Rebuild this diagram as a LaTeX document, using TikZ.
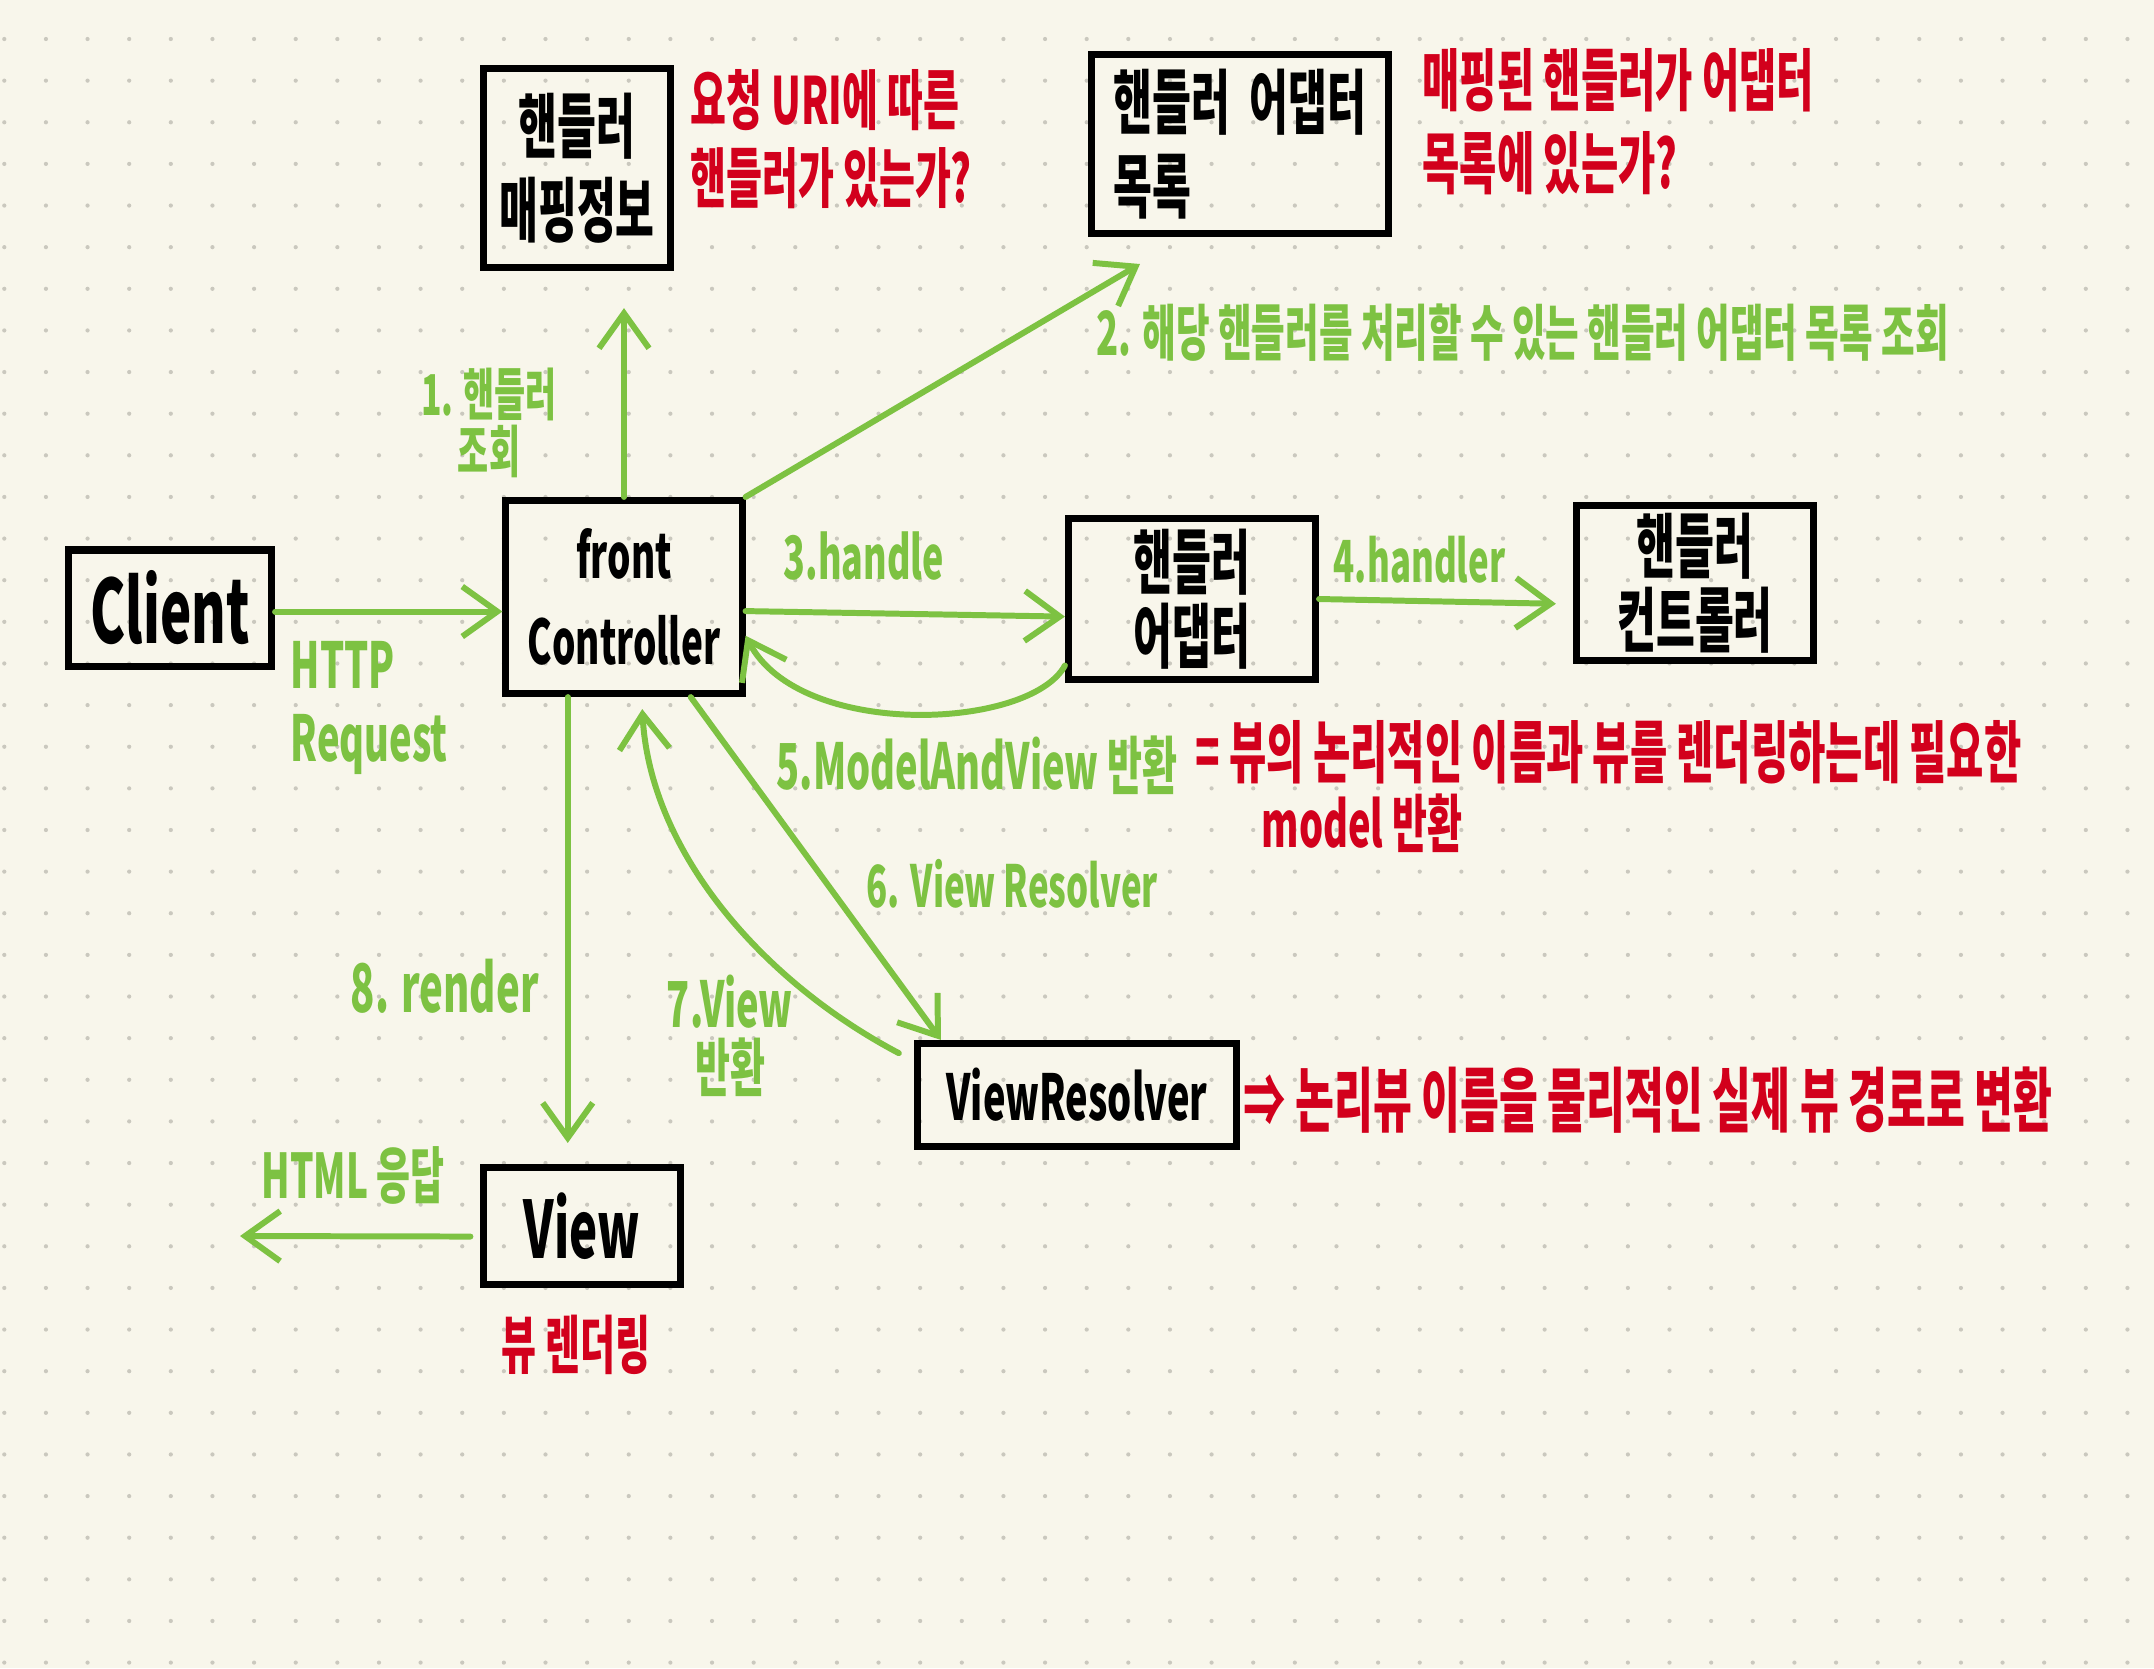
\documentclass[tikz,border=0pt]{standalone}
\usepackage{fontspec}
\usepackage{tikz}
\usetikzlibrary{arrows.meta}
\newfontfamily\hand[FakeStretch=0.6]{Noto Sans CJK KR}
\definecolor{paper}{HTML}{F8F6EB}
\definecolor{dotgray}{HTML}{CAC8BE}
\definecolor{pen}{HTML}{7DC242}
\definecolor{redpen}{HTML}{D2001C}
\tikzset{
  box/.style={draw=black, line width=2pt, inner sep=0pt, align=center,
    font=\hand\bfseries\fontsize{20}{24}\selectfont},
  flow/.style={draw=pen, line width=1.7pt, line cap=round, line join=round,
    -{Straight Barb[length=0.35cm,width=0.5cm]}},
  greennote/.style={text=pen, inner sep=0pt, font=\hand\bfseries\fontsize{18}{22}\selectfont},
  rednote/.style={text=redpen, inner sep=0pt, font=\hand\bfseries\fontsize{18}{22}\selectfont},
}

\begin{document}
\begin{tikzpicture}[x=0.01cm, y=-0.01cm]
	\fill[paper] (0,0) rectangle (2154,1668);
	\useasboundingbox (0,0) rectangle (2154,1668);
	\foreach \i in {0,...,51}
	\foreach \j in {0,...,39}
		\fill[dotgray] (4.3+41.63*\i, 39+41.63*\j) circle (0.6pt);
	% boxes
	\node[box, minimum width=1.87cm, minimum height=1.99cm] (map) at (577,168) {핸들러\\매핑정보};
	\node[box, minimum width=2.96cm, minimum height=1.79cm, align=left] (adlist) at (1240,144) {핸들러 \ 어댑터\\목록};
	\node[box, minimum width=2.03cm, minimum height=1.16cm, font=\hand\bfseries\fontsize{25}{30}\selectfont] (client) at (170,608) {Client};
	\node[box, minimum width=2.36cm, minimum height=1.93cm, font=\hand\bfseries\fontsize{17.5}{24.5}\selectfont] (fc) at (624,597) {front\\Controller};
	\node[box, minimum width=2.47cm, minimum height=1.61cm, font=\hand\bfseries\fontsize{20}{21}\selectfont] (adapter) at (1192,599) {핸들러\\어댑터};
	\node[box, minimum width=2.37cm, minimum height=1.54cm, font=\hand\bfseries\fontsize{20}{21}\selectfont] (hctrl) at (1695,583) {핸들러\\컨트롤러};
	\node[box, minimum width=3.19cm, minimum height=1.03cm, font=\hand\bfseries\fontsize{18}{22}\selectfont] (vr) at (1077,1095) {ViewResolver};
	\node[box, minimum width=1.96cm, minimum height=1.17cm, font=\hand\bfseries\fontsize{22.5}{26}\selectfont] (view) at (582,1226) {View};
	% free ends
	\coordinate (a2end) at (1140,264);
	\coordinate (htmlend) at (240,1236);
	% arrows
	\draw[flow, shorten >=0.37cm] (fc.north) -- (fc.north |- map.south);
	\draw[flow] (fc.north east) -- (a2end);
	\draw[flow] ([yshift=-1pt]client.east) -- ([yshift=-1pt]client.east -| fc.west);
	\draw[flow] ([yshift=-4pt]fc.east) -- ([yshift=-5pt]adapter.west);
	\draw[flow, shorten >=0.17cm] (adapter.east) -- ([yshift=-6pt]hctrl.west);
	\draw[flow] ([yshift=5pt]adapter.south west) .. controls (1030,730) and (800,740) .. ([yshift=-11pt]fc.east);
	\draw[flow] ([xshift=-15.6pt]fc.south east) -- ([xshift=7.7pt]vr.north west);
	\draw[flow, shorten <=0.17cm, shorten >=0.12cm] ([yshift=-6pt]vr.north west) .. controls (760,980) and (650,850) .. ([xshift=5pt]fc.south);
	\draw[flow, shorten >=0.21cm] ([xshift=-16pt]fc.south) -- ([xshift=-16pt]fc.south |- view.north);
	\draw[flow, shorten <=0.1cm] ([yshift=-3pt]view.west) -- (htmlend);
	% green labels
	\node[greennote, align=center, font=\hand\bfseries\fontsize{16}{13.4}\selectfont] (s1) at (489,423) {1. 핸들러\\조회};
	\node[greennote, anchor=west, font=\hand\bfseries\fontsize{17.3}{22}\selectfont] (s2) at (1096,333) {2. 해당 핸들러를 처리할 수 있는 핸들러 어댑터 목록 조회};
	\node[greennote, anchor=west, align=left, font=\hand\bfseries\fontsize{18}{20.8}\selectfont] (http) at (290,708) {HTTP\\Request};
	\node[greennote, anchor=west, font=\hand\bfseries\fontsize{17}{22}\selectfont] (s3) at (783,556) {3.handle};
	\node[greennote, anchor=west, font=\hand\bfseries\fontsize{16.5}{22}\selectfont] (s4) at (1333,560) {4.handler};
	\node[greennote, anchor=west] (s5) at (776,765) {5.ModelAndView 반환};
	\node[greennote, anchor=west, font=\hand\bfseries\fontsize{16.5}{22}\selectfont] (s6) at (866,884) {6. View Resolver};
	\node[greennote, align=center, font=\hand\bfseries\fontsize{18}{18.2}\selectfont] (s7) at (730,1036) {7.View\\반환};
	\node[greennote, anchor=west, font=\hand\bfseries\fontsize{19}{22}\selectfont] (s8) at (350,986) {8. render};
	\node[greennote, anchor=west, font=\hand\bfseries\fontsize{17.5}{22}\selectfont] (html) at (261,1175) {HTML 응답};
	% red notes
	\node[rednote, anchor=west, align=left, font=\hand\bfseries\fontsize{18.5}{22.2}\selectfont] (mapnote) at (690,139) {요청 URI에 따른\\핸들러가 있는가?};
	\node[rednote, anchor=west, align=left, font=\hand\bfseries\fontsize{19.2}{23.6}\selectfont] (adnote) at (1422,122) {매핑된 핸들러가 어댑터\\목록에 있는가?};
	\node[rednote, anchor=west, font=\hand\bfseries\fontsize{19.2}{22}\selectfont] (mavnote) at (1195,752) {= 뷰의 논리적인 이름과 뷰를 렌더링하는데 필요한};
	\node[rednote, anchor=west, font=\hand\bfseries\fontsize{18}{22}\selectfont] (mavnote2) at (1261,823) {model 반환};
	\node[rednote, anchor=west, font=\hand\bfseries\fontsize{20}{22}\selectfont] (vrnote) at (1243,1100) {⇒ 논리뷰 이름을 물리적인 실제 뷰 경로로 변환};
	\node[rednote, anchor=west] (viewnote) at (501,1345) {뷰 렌더링};
\end{tikzpicture}
\end{document}
